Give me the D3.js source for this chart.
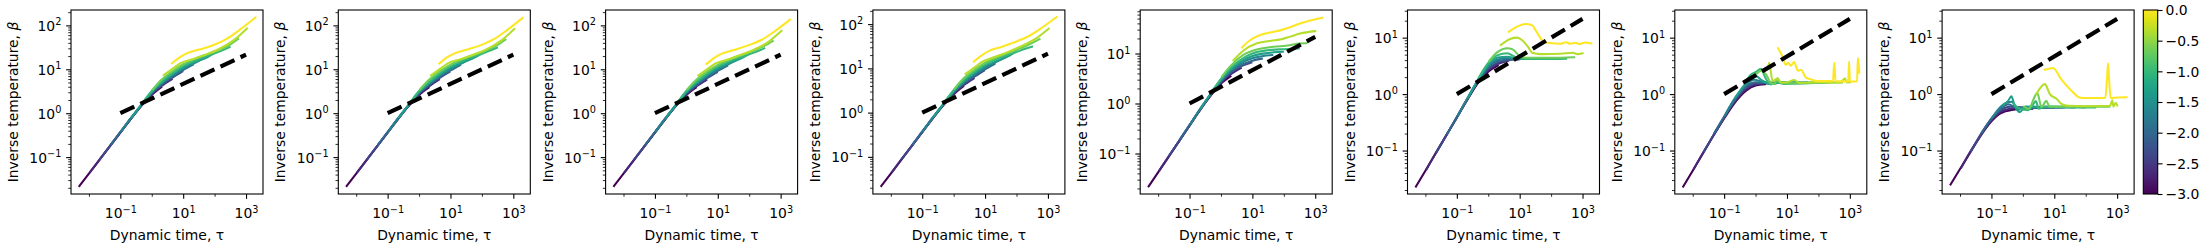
<!DOCTYPE html>
<html>
<head>
<meta charset="utf-8">
<script src="https://cdn.jsdelivr.net/npm/d3@7/dist/d3.min.js"></script>
<style>
  body { margin: 0; background: #fff; }
  text { font-family: "DejaVu Sans", sans-serif; fill: #000; }
</style>
</head>
<body>
<svg id="mainsvg" width="2200" height="250"></svg>
<script>
// colour value of each curve (log10 scale shown on the colour bar)
const colorValues = [-3, -2.667, -2.333, -2, -1.667, -1.333, -1, -0.667, -0.333, 0];

// each panel: one list of [tau, beta] points per colour value
const panel1 = [
  [[0.005,0.022],[0.01,0.042],[0.02,0.08],[0.05,0.19],[0.1,0.36],[0.2,0.69],[0.5,1.55],[1,2.6],[2,3.9]],
  [[0.011,0.046],[0.02,0.081],[0.05,0.19],[0.1,0.36],[0.2,0.7],[0.5,1.58],[1,2.7],[2,4.1],[4.3,5.9]],
  [[0.023,0.092],[0.05,0.19],[0.1,0.37],[0.2,0.7],[0.5,1.6],[1,2.8],[2,4.3],[4,6.1],[9.3,8.9]],
  [[0.05,0.195],[0.1,0.37],[0.2,0.71],[0.5,1.62],[1,2.9],[2,4.5],[5,7.1],[10,9.6],[20,12.6]],
  [[0.108,0.39],[0.2,0.72],[0.5,1.64],[1,3.0],[2,4.7],[5,7.6],[10,10.2],[20,13.2],[43,17.5]],
  [[0.23,0.81],[0.5,1.66],[1,3.1],[2,4.9],[5,8.1],[10,11],[30,15.5],[60,19],[93,23]],
  [[0.5,1.68],[1,3.2],[2,5.2],[5,8.6],[10,12],[30,17],[100,23],[200,28],[300,32]],
  [[1.08,3.5],[2,5.7],[5,9.5],[10,13],[30,18.5],[100,25],[300,36],[560,49]],
  [[2.4,7.4],[5,10.8],[8,13.7],[20,17],[50,21.5],[120,27.5],[410,46],[1070,85]],
  [[4.4,13.7],[8,19],[13,23],[35,28.5],[93,35.7],[250,50],[660,81],[2000,151]]
];
const panel2 = [
  [[0.005,0.022],[0.01,0.042],[0.02,0.08],[0.05,0.19],[0.1,0.36],[0.2,0.69],[0.5,1.55],[1,2.6],[2,3.8]],
  [[0.011,0.046],[0.02,0.081],[0.05,0.19],[0.1,0.36],[0.2,0.7],[0.5,1.58],[1,2.7],[2,4.0],[4.3,5.8]],
  [[0.023,0.092],[0.05,0.19],[0.1,0.37],[0.2,0.7],[0.5,1.6],[1,2.8],[2,4.2],[4,6.0],[9.3,8.7]],
  [[0.05,0.195],[0.1,0.37],[0.2,0.71],[0.5,1.62],[1,2.9],[2,4.4],[5,7.0],[10,9.4],[20,12.4]],
  [[0.108,0.39],[0.2,0.72],[0.5,1.64],[1,3.0],[2,4.6],[5,7.5],[10,10],[20,13],[43,17.2]],
  [[0.23,0.81],[0.5,1.66],[1,3.1],[2,4.8],[5,8],[10,10.8],[30,15.2],[60,18.6],[93,22.5]],
  [[0.5,1.68],[1,3.2],[2,5.1],[5,8.5],[10,11.8],[30,16.6],[100,22.5],[200,27.5],[300,31]],
  [[1.08,3.5],[2,5.6],[5,9.4],[10,12.8],[30,18],[100,24.5],[300,35],[560,47]],
  [[2.4,7.3],[5,10.6],[8,13.5],[20,16.8],[50,21.2],[120,27],[410,45],[1070,83]],
  [[4.4,13.5],[8,18.8],[13,22.8],[35,28.3],[93,35.5],[250,49],[660,80],[2000,148]]
];
const panel3 = [
  [[0.005,0.022],[0.01,0.042],[0.02,0.08],[0.05,0.19],[0.1,0.36],[0.2,0.69],[0.5,1.55],[1,2.6],[2,3.8]],
  [[0.011,0.046],[0.02,0.081],[0.05,0.19],[0.1,0.36],[0.2,0.7],[0.5,1.58],[1,2.7],[2,4.0],[4.3,5.7]],
  [[0.023,0.092],[0.05,0.19],[0.1,0.37],[0.2,0.7],[0.5,1.6],[1,2.8],[2,4.2],[4,5.9],[9.3,8.5]],
  [[0.05,0.195],[0.1,0.37],[0.2,0.71],[0.5,1.62],[1,2.9],[2,4.4],[5,6.9],[10,9.2],[20,12]],
  [[0.108,0.39],[0.2,0.72],[0.5,1.64],[1,3.0],[2,4.6],[5,7.4],[10,9.8],[20,12.7],[43,16.8]],
  [[0.23,0.81],[0.5,1.66],[1,3.1],[2,4.8],[5,7.9],[10,10.6],[30,14.8],[60,18.2],[93,22]],
  [[0.5,1.68],[1,3.2],[2,5.1],[5,8.4],[10,11.6],[30,16.3],[100,22],[200,26.5],[300,30]],
  [[1.08,3.5],[2,5.6],[5,9.3],[10,12.6],[30,17.7],[100,24],[300,34],[560,44]],
  [[2.4,7.2],[5,10.5],[8,13.3],[20,16.5],[50,21],[120,26.5],[410,42],[1070,75]],
  [[4.4,13.3],[8,18.5],[13,22.5],[35,28],[93,35],[250,47],[660,74],[2000,135]]
];
const panel4 = [
  [[0.005,0.022],[0.01,0.042],[0.02,0.08],[0.05,0.19],[0.1,0.36],[0.2,0.69],[0.5,1.55],[1,2.6],[2,3.9]],
  [[0.011,0.046],[0.02,0.081],[0.05,0.19],[0.1,0.36],[0.2,0.7],[0.5,1.58],[1,2.7],[2,4.1],[4.3,5.9]],
  [[0.023,0.092],[0.05,0.19],[0.1,0.37],[0.2,0.7],[0.5,1.6],[1,2.8],[2,4.3],[4,6.1],[9.3,8.9]],
  [[0.05,0.195],[0.1,0.37],[0.2,0.71],[0.5,1.62],[1,2.9],[2,4.5],[5,7.1],[10,9.6],[20,12.6]],
  [[0.108,0.39],[0.2,0.72],[0.5,1.64],[1,3.0],[2,4.7],[5,7.6],[10,10.3],[20,13.3],[43,17.6]],
  [[0.23,0.81],[0.5,1.66],[1,3.1],[2,5.0],[5,8.2],[10,11.2],[30,15.8],[60,19.4],[93,23.5]],
  [[0.5,1.68],[1,3.2],[2,5.3],[5,8.8],[10,12.3],[30,17.5],[100,23.5],[200,28],[310,31]],
  [[1.08,3.5],[2,5.8],[5,9.7],[10,13.4],[30,19],[100,26],[300,37],[540,46]],
  [[2.4,7.5],[5,11],[8,14],[20,18],[50,23],[120,30],[410,47],[1050,79]],
  [[4.4,14.2],[8,20],[13,24.5],[35,31],[100,40.7],[250,54],[660,84],[1900,145]]
];
const panel5 = [
  [[0.005,0.022],[0.01,0.042],[0.02,0.08],[0.05,0.19],[0.1,0.36],[0.2,0.69],[0.5,1.5],[1,2.5],[2,3.5]],
  [[0.011,0.046],[0.02,0.081],[0.05,0.19],[0.1,0.36],[0.2,0.7],[0.5,1.54],[1,2.6],[2,3.8],[4.3,5.1]],
  [[0.023,0.092],[0.05,0.19],[0.1,0.37],[0.2,0.7],[0.5,1.57],[1,2.7],[2,4.1],[4,5.4],[9.3,6.6]],
  [[0.05,0.195],[0.1,0.37],[0.2,0.71],[0.5,1.6],[1,2.8],[2,4.3],[5,6.1],[10,7.2],[20,7.9]],
  [[0.108,0.39],[0.2,0.72],[0.5,1.63],[1,2.9],[2,4.5],[5,6.7],[10,8],[20,8.8],[43,9.3]],
  [[0.23,0.81],[0.5,1.66],[1,3.0],[2,4.8],[5,7.3],[10,8.9],[30,10.2],[93,10.8]],
  [[0.5,1.68],[1,3.1],[2,5.1],[5,8],[10,10],[30,11.6],[100,12.2],[300,12.6]],
  [[1.08,3.5],[2,5.6],[5,9.3],[15,12.2],[47,13.6],[150,14.6],[300,15.8],[520,16]],
  [[2.5,7.3],[5,11.2],[14,16],[40,18],[77,19],[150,21.5],[330,25],[1000,28]],
  [[4.7,13.2],[8,18],[17.8,23.4],[40,26.5],[77,29],[150,33],[330,40],[800,47],[1700,52]]
];
const panel6 = [
  [[0.005,0.023],[0.01,0.044],[0.02,0.084],[0.05,0.2],[0.1,0.38],[0.2,0.74],[0.5,1.65],[1,2.5],[2,3.2]],
  [[0.011,0.047],[0.02,0.085],[0.05,0.2],[0.1,0.39],[0.2,0.75],[0.5,1.7],[1,2.65],[2,3.4],[4.3,3.9]],
  [[0.023,0.095],[0.05,0.2],[0.1,0.39],[0.2,0.76],[0.5,1.75],[1,2.8],[2,3.6],[4,4.0],[9.3,4.1]],
  [[0.05,0.2],[0.1,0.39],[0.2,0.77],[0.5,1.8],[1,2.95],[2,3.85],[5,4.15],[10,4.2],[20,4.2]],
  [[0.108,0.42],[0.2,0.78],[0.5,1.85],[1,3.15],[2,4.1],[4,4.35],[10,4.25],[43,4.2]],
  [[0.23,0.88],[0.5,1.9],[1,3.35],[2,4.45],[4,4.6],[8,4.3],[30,4.2],[160,4.2]],
  [[0.5,1.95],[1,3.55],[2,4.9],[4,5.3],[7,4.6],[15,4.25],[60,4.2],[300,4.25]],
  [[1.08,3.9],[2,5.6],[4,6.5],[6,6.2],[10,4.7],[15,4.4],[100,4.4],[540,4.5]],
  [[2.5,7.4],[5,9.5],[8.3,10],[12,9],[18,7],[25,5.4],[47,5.1],[200,5.2],[500,5.4],[700,5.1],[1000,5.3]],
  [[4.5,12.7],[8,15.5],[15.5,17.4],[25,16.5],[32,13.6],[45,10],[60,8.3],[80,8.1],[200,7.8],[300,8.3],[400,7.8],[600,8.1],[800,7.7],[1200,8.2],[1900,7.9]]
];
const panel7 = [
  [[0.005,0.023],[0.01,0.044],[0.02,0.084],[0.05,0.2],[0.1,0.37],[0.2,0.66],[0.5,1.15],[1,1.42],[2,1.5]],
  [[0.011,0.048],[0.02,0.086],[0.05,0.2],[0.1,0.38],[0.2,0.69],[0.5,1.22],[1,1.48],[2,1.54],[4.3,1.55]],
  [[0.023,0.097],[0.05,0.205],[0.1,0.39],[0.2,0.72],[0.5,1.3],[1,1.55],[2,1.57],[9.3,1.58]],
  [[0.05,0.21],[0.1,0.4],[0.2,0.75],[0.5,1.38],[1,1.62],[2,1.6],[20,1.6]],
  [[0.108,0.43],[0.2,0.78],[0.5,1.48],[0.9,1.8],[1.5,1.68],[3,1.57],[43,1.6]],
  [[0.23,0.88],[0.5,1.6],[0.7,2.0],[1,2.1],[1.6,1.75],[3,1.5],[5,1.6],[93,1.6]],
  [[0.5,1.7],[0.7,2.2],[1,2.45],[1.5,2.8],[2,2.0],[3,1.5],[5,1.6],[8,1.52],[200,1.6]],
  [[1.08,2.3],[1.5,2.6],[2.2,2.2],[3,1.6],[4,1.5],[5,1.9],[6,1.6],[10,1.55],[300,1.6],[560,1.6]],
  [[2.5,2.9],[2.7,3.6],[3.5,1.7],[5,1.9],[6.5,1.6],[10,1.62],[17,1.78],[25,1.58],[100,1.62],[500,1.6],[700,1.9],[800,1.6],[1000,1.62]],
  [[5.2,6.5],[7,4.8],[9.2,3.3],[11,3.6],[13,3.2],[17,3.7],[22,2.6],[28,2.7],[40,1.96],[57,1.83],[93,1.7],[290,1.7],[320,3.6],[350,1.7],[880,1.67],[950,3.8],[1000,1.67],[1700,1.67],[1800,4.4],[2000,2.4]]
];
const panel8 = [
  [[0.005,0.025],[0.01,0.047],[0.02,0.088],[0.05,0.2],[0.1,0.33],[0.2,0.46],[0.5,0.53],[1,0.55],[2,0.55]],
  [[0.011,0.05],[0.02,0.09],[0.05,0.2],[0.1,0.34],[0.2,0.49],[0.5,0.56],[1,0.57],[4.3,0.57]],
  [[0.023,0.1],[0.05,0.21],[0.1,0.36],[0.2,0.52],[0.4,0.6],[1,0.58],[9.3,0.58]],
  [[0.05,0.21],[0.1,0.37],[0.2,0.56],[0.35,0.66],[0.6,0.58],[1,0.57],[20,0.58]],
  [[0.108,0.39],[0.2,0.6],[0.3,0.7],[0.45,0.73],[0.7,0.52],[1,0.58],[43,0.58]],
  [[0.23,0.63],[0.34,0.76],[0.43,0.91],[0.55,0.62],[0.8,0.48],[1.2,0.6],[93,0.58]],
  [[0.5,0.68],[0.8,0.55],[1.5,0.52],[2,0.62],[2.6,0.75],[3.2,0.55],[5,0.6],[200,0.58]],
  [[1.08,0.6],[1.5,0.55],[2.9,1.04],[3.9,0.59],[5.6,0.76],[7,0.6],[20,0.6],[560,0.6]],
  [[2.7,1.0],[5,1.5],[7.2,1.0],[12,0.82],[17,0.67],[28,0.62],[100,0.61],[600,0.62],[700,0.78],[760,0.6],[900,0.7],[1000,0.63]],
  [[5,2.7],[9.1,2.9],[17,1.8],[35,1.15],[65,0.87],[100,0.85],[420,0.85],[480,2.0],[515,3.5],[550,2.0],[620,0.85],[1000,0.87],[2000,0.88]]
];
const panels = [panel1, panel2, panel3, panel4, panel5, panel6, panel7, panel8];

// reference power law drawn dashed in every panel
const guideLine = [[0.1, 1], [1000, 21.5]];

// axis limits, as log10 exponents
const xLogRange = [-2.57, 3.54];
const yLogRanges = [
  [-1.84, 2.35], [-1.84, 2.35], [-1.84, 2.35], [-1.84, 2.32],
  [-1.81, 1.87], [-1.77, 1.49], [-1.77, 1.49], [-1.77, 1.49]
];
const xTickExps = [-1, 1, 3];
const xMinorExps = [-2, 0, 2];
const cbarTicks = [0, -0.5, -1, -1.5, -2, -2.5, -3];

const svg = d3.select('#mainsvg');
const pw = 192, ph = 184, topY = 10, left0 = 71, step = 267.3;
const fs = 13.9;
const color = v => d3.interpolateViridis((v + 3) / 3);

const powerLabel = function(text, e) {
  text.append('tspan').text('10');
  text.append('tspan').attr('dy', -5.5).attr('font-size', 9.7)
    .text(e < 0 ? '\u2212' + (-e) : String(e));
};

panels.forEach((data, i) => {
  const g = svg.append('g')
    .attr('transform', `translate(${left0 + step * i}, ${topY})`);

  const xScale = d3.scaleLog()
    .domain(xLogRange.map(e => Math.pow(10, e)))
    .range([0, pw]);
  const yScale = d3.scaleLog()
    .domain(yLogRanges[i].map(e => Math.pow(10, e)))
    .range([ph, 0]);

  g.append('clipPath').attr('id', 'clip' + i)
    .append('rect').attr('width', pw).attr('height', ph);

  const line = d3.line()
    .x(d => xScale(d[0]))
    .y(d => yScale(d[1]))
    .curve(d3.curveMonotoneX);

  const plot = g.append('g').attr('clip-path', `url(#clip${i})`);
  data.forEach((pts, k) => {
    plot.append('path')
      .attr('d', line(pts))
      .attr('fill', 'none')
      .attr('stroke', color(colorValues[k]))
      .attr('stroke-width', 2.08)
      .attr('stroke-linejoin', 'round')
      .attr('stroke-linecap', 'square');
  });

  plot.append('path')
    .attr('d', d3.line().x(d => xScale(d[0])).y(d => yScale(d[1]))(guideLine))
    .attr('fill', 'none')
    .attr('stroke', '#000')
    .attr('stroke-width', 4.17)
    .attr('stroke-dasharray', '15.4,6.7');

  // y ticks
  const [ylo, yhi] = yLogRanges[i];
  const yMajor = d3.range(Math.ceil(ylo), Math.floor(yhi) + 1);
  const yMinor = [];
  d3.range(Math.floor(ylo), Math.floor(yhi) + 1).forEach(e => {
    d3.range(2, 10).forEach(m => {
      const lv = Math.log10(m) + e;
      if (lv > ylo && lv < yhi) yMinor.push(m * Math.pow(10, e));
    });
  });

  const yAxisMinor = g.append('g')
    .call(d3.axisLeft(yScale).tickValues(yMinor).tickSize(2.78).tickFormat(''));
  yAxisMinor.selectAll('line').attr('stroke-width', 0.83);
  const yAxis = g.append('g')
    .call(d3.axisLeft(yScale).tickValues(yMajor.map(e => Math.pow(10, e))).tickSize(4.86).tickFormat(''));
  yAxis.selectAll('line').attr('stroke-width', 1.1);
  yAxis.selectAll('.tick').each(function(d, j) {
    const t = d3.select(this).append('text')
      .attr('x', -9.7).attr('y', 5).attr('text-anchor', 'end')
      .attr('font-size', fs).attr('fill', '#000');
    powerLabel(t, yMajor[j]);
  });

  // x ticks
  const xAxisMinor = g.append('g').attr('transform', `translate(0, ${ph})`)
    .call(d3.axisBottom(xScale).tickValues(xMinorExps.map(e => Math.pow(10, e))).tickSize(2.78).tickFormat(''));
  xAxisMinor.selectAll('line').attr('stroke-width', 0.83);
  const xAxis = g.append('g').attr('transform', `translate(0, ${ph})`)
    .call(d3.axisBottom(xScale).tickValues(xTickExps.map(e => Math.pow(10, e))).tickSize(4.86).tickFormat(''));
  xAxis.selectAll('line').attr('stroke-width', 1.1);
  xAxis.selectAll('.tick').each(function(d, j) {
    const t = d3.select(this).append('text')
      .attr('x', 0).attr('y', 24).attr('text-anchor', 'middle')
      .attr('font-size', fs).attr('fill', '#000');
    powerLabel(t, xTickExps[j]);
  });
  g.selectAll('.domain').remove();

  g.append('rect')
    .attr('width', pw).attr('height', ph)
    .attr('fill', 'none').attr('stroke', '#000').attr('stroke-width', 1.1);

  g.append('text').text('Dynamic time, \u03c4')
    .attr('x', pw / 2).attr('y', 230)
    .attr('text-anchor', 'middle')
    .attr('font-size', fs);

  const yl = g.append('text')
    .attr('transform', `translate(-53, ${ph / 2}) rotate(-90)`)
    .attr('text-anchor', 'middle')
    .attr('font-size', fs);
  yl.append('tspan').text('Inverse temperature, ');
  yl.append('tspan').attr('font-style', 'italic').text('\u03b2');
});

// colour bar
const cbx = 2143.3, cbw = 14.4;
const defs = svg.append('defs');
const grad = defs.append('linearGradient').attr('id', 'viridis')
  .attr('x1', 0).attr('y1', 1).attr('x2', 0).attr('y2', 0);
d3.range(0, 1.0001, 0.05).forEach(t => {
  grad.append('stop').attr('offset', t).attr('stop-color', d3.interpolateViridis(t));
});
const cb = svg.append('g').attr('transform', `translate(${cbx}, ${topY})`);
cb.append('rect').attr('width', cbw).attr('height', ph).attr('fill', 'url(#viridis)');
const cScale = d3.scaleLinear().domain([-3, 0]).range([ph, 0]);
const cAxis = cb.append('g').attr('transform', `translate(${cbw}, 0)`)
  .call(d3.axisRight(cScale).tickValues(cbarTicks).tickSize(4.86).tickPadding(3).tickFormat(d3.format('.1f')));
cAxis.select('.domain').remove();
cAxis.selectAll('line').attr('stroke-width', 1.1);
cAxis.selectAll('text').attr('font-size', fs).attr('font-family', '"DejaVu Sans", sans-serif').attr('dy', '0.35em');
cb.append('rect').attr('width', cbw).attr('height', ph)
  .attr('fill', 'none').attr('stroke', '#000').attr('stroke-width', 1.1);
</script>
</body>
</html>
